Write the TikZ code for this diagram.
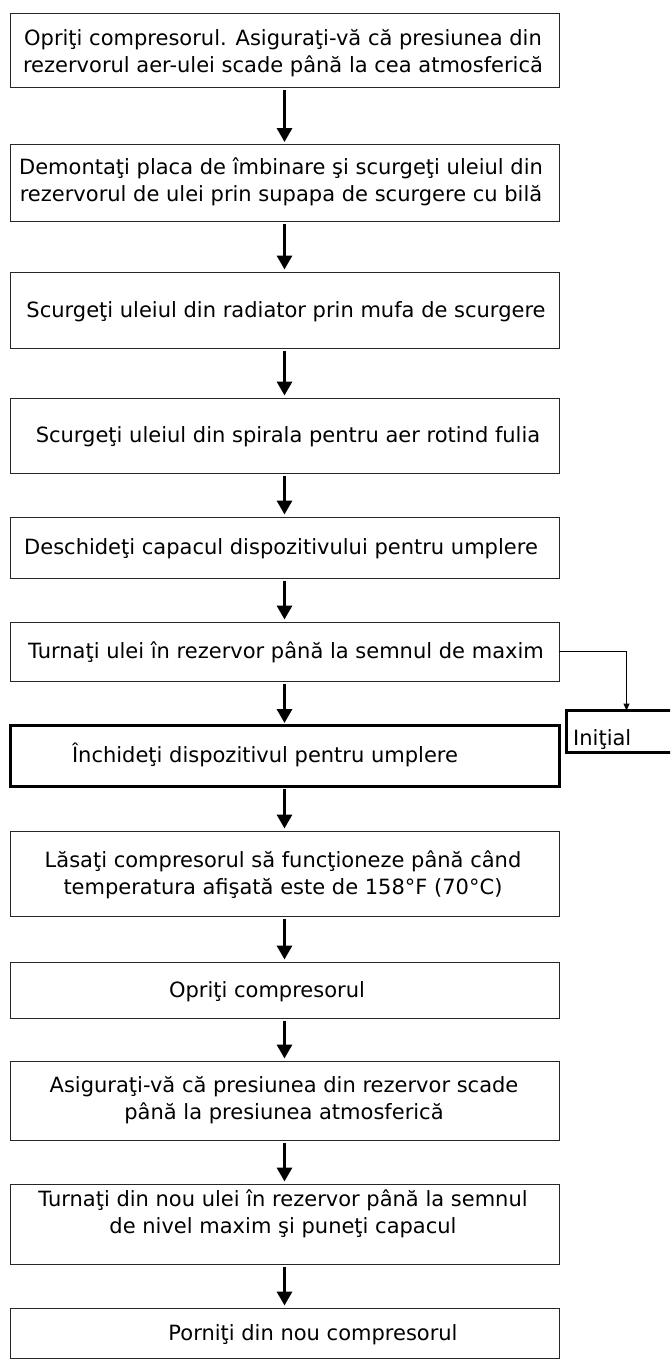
\documentclass[tikz,border=0pt]{standalone}
\usepackage{fontspec}
\setmainfont{DejaVu Sans}
\usetikzlibrary{arrows.meta}
\newcommand\topstrut{\rule{0pt}{22pt}}
\begin{document}
\begin{tikzpicture}[x=1pt,y=-1pt,
  box/.style={draw=black!85, line width=1pt, inner sep=0pt, outer sep=0pt, anchor=north west, minimum width=549pt},
  boldbox/.style={draw=black, line width=3pt, inner sep=0pt, outer sep=0pt, anchor=north west},
  txt/.style={align=center, inner sep=0pt, anchor=north, font=\fontsize{21}{27}\selectfont},
  flow/.style={line width=3.2pt, -{Triangle[width=15pt,length=14pt]}, shorten <=2.5pt, shorten >=2.5pt},
  conn/.style={line width=1pt, -{Triangle[width=6pt,length=7pt]}}]
\clip (0,0) rectangle (670,1360);
% boxes
\node[box, minimum height=74.5pt] (b1) at (10,13) {};
\node[box, minimum height=77pt] (b2) at (10,144.5) {};
\node[box, minimum height=76pt] (b3) at (10,272) {};
\node[box, minimum height=75pt] (b4) at (10,398) {};
\node[box, minimum height=61pt] (b5) at (10,517) {};
\node[box, minimum height=59pt] (b6) at (10,622) {};
\node[boldbox, minimum width=549pt, minimum height=61pt] (b7) at (10,725.5) {};
\node[boldbox, minimum width=110pt, minimum height=42pt] (ini) at (566.5,710.5) {};
\node[box, minimum height=85pt] (b8) at (10,831) {};
\node[box, minimum height=56pt] (b9) at (10,962) {};
\node[box, minimum height=79pt] (b10) at (10,1061) {};
\node[box, minimum height=80pt] (b11) at (10,1184) {};
\node[box, minimum height=50pt] (b12) at (10,1308) {};
% texts (node north = first baseline - 22)
\node[txt] (t1) at (283,23) {\topstrut Opriţi compresorul. Asiguraţi-vă că presiunea din\\rezervorul aer-ulei scade până la cea atmosferică};
\node[txt] (t2) at (281,152) {\topstrut Demontaţi placa de îmbinare şi scurgeţi uleiul din\\rezervorul de ulei prin supapa de scurgere cu bilă};
\node[txt] (t3) at (286,295) {\topstrut Scurgeţi uleiul din radiator prin mufa de scurgere};
\node[txt] (t4) at (288,420) {\topstrut Scurgeţi uleiul din spirala pentru aer rotind fulia};
\node[txt] (t5) at (281,532) {\topstrut Deschideţi capacul dispozitivului pentru umplere};
\node[txt] (t6) at (286,636) {\topstrut Turnaţi ulei în rezervor până la semnul de maxim};
\node[txt] (t7) at (265,740) {\topstrut Închideţi dispozitivul pentru umplere};
\node[txt, anchor=north west] (tini) at (573,723) {\topstrut Iniţial};
\node[txt] (t8) at (283,845) {\topstrut Lăsaţi compresorul să funcţioneze până când\\temperatura afişată este de 158°F (70°C)};
\node[txt] (t9) at (267,975) {\topstrut Opriţi compresorul};
\node[txt] (t10) at (284,1070) {\topstrut Asiguraţi-vă că presiunea din rezervor scade\\până la presiunea atmosferică};
\node[txt] (t11) at (283,1184) {\topstrut Turnaţi din nou ulei în rezervor până la semnul\\de nivel maxim şi puneţi capacul};
\node[txt] (t12) at (313,1318) {\topstrut Porniţi din nou compresorul};
% arrows
\draw[flow] (b1.south) -- (b2.north);
\draw[flow] (b2.south) -- (b3.north);
\draw[flow] (b3.south) -- (b4.north);
\draw[flow] (b4.south) -- (b5.north);
\draw[flow] (b5.south) -- (b6.north);
\draw[flow] (b6.south) -- (b7.north);
\draw[flow] (b7.south) -- (b8.north);
\draw[flow] (b8.south) -- (b9.north);
\draw[flow] (b9.south) -- (b10.north);
\draw[flow] (b10.south) -- (b11.north);
\draw[flow] (b11.south) -- (b12.north);
\draw[conn] (b6.east) -| ([xshift=5pt]ini.north);
\end{tikzpicture}
\end{document}
